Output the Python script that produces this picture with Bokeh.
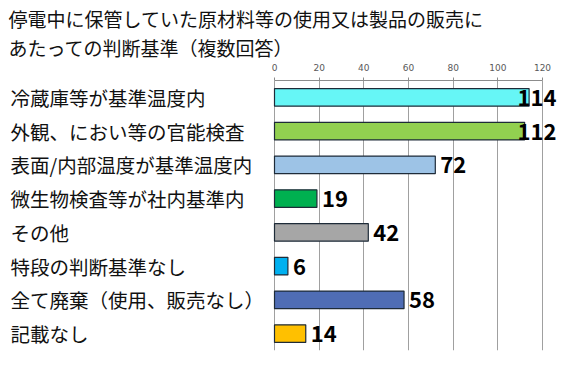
from bokeh.plotting import figure
from bokeh.models import ColumnDataSource, Range1d, FactorRange, FixedTicker, Title
from bokeh.core.properties import value
from bokeh.embed import file_html
from bokeh.resources import INLINE

title_lines = ["停電中に保管していた原材料等の使用又は製品の販売に",
               "あたっての判断基準（複数回答）"]
categories = ["冷蔵庫等が基準温度内", "外観、におい等の官能検査", "表面/内部温度が基準温度内",
              "微生物検査等が社内基準内", "その他", "特段の判断基準なし",
              "全て廃棄（使用、販売なし）", "記載なし"]
values = [114, 112, 72, 19, 42, 6, 58, 14]
colors = ["#66F6F6", "#92D050", "#9DC3E6", "#00B050", "#A6A6A6", "#00B0F0", "#4F6DB5", "#FFC000"]
ticks = [0, 20, 40, 60, 80, 100, 120]
x_min, x_max = 0, 120

# layout (pixels)
W, H = 561, 358
zero_px, max_px = 274, 542          # where 0 and 120 fall horizontally
ppu = (max_px - zero_px) / (x_max - x_min)
label_left_px = 10

p = figure(width=W, height=H, output_backend="svg", toolbar_location=None,
           x_range=Range1d(x_min - zero_px / ppu, x_min + (W - zero_px) / ppu),
           y_range=FactorRange(*reversed(categories), range_padding=0),
           x_axis_location="above", y_axis_location=None,
           min_border_left=0, min_border_right=0, min_border_top=80, min_border_bottom=8)
p.outline_line_color = None

src = ColumnDataSource(dict(cat=categories, val=values, color=colors))
p.hbar(y="cat", right="val", left=0, height=0.52, source=src, fill_color="color",
       line_color="#1E2B38", line_width=1.2)

ax = p.xaxis[0]
ax.ticker = FixedTicker(ticks=ticks)
ax.bounds = (x_min, x_max)
ax.axis_line_color = "#8C8C8C"
ax.major_tick_line_color = "#8C8C8C"
ax.major_tick_out = 3
ax.major_tick_in = 0
ax.minor_tick_out = 0
ax.minor_tick_in = 0
ax.major_label_text_font = "DejaVu Sans"
ax.major_label_text_font_size = "9px"
ax.major_label_text_color = "#595959"
ax.major_label_standoff = 7

p.xgrid.ticker = FixedTicker(ticks=ticks)
p.xgrid.bounds = (x_min, x_max)
p.xgrid.grid_line_color = "#A0A0A0"
p.ygrid.grid_line_color = None

# category labels, left aligned near the left edge
p.text(x=x_min - (zero_px - label_left_px) / ppu, y=categories, text=categories,
       text_align="left", text_baseline="middle",
       text_font=value("Noto Sans CJK JP"), text_font_size="19.5px", text_color="#111111")

# value labels: just outside the bar end, pinned to the right if they would overflow
fits = [v + 10 <= x_max for v in values]
lab_kw = dict(text_baseline="middle", text_font=value("Noto Sans CJK JP"), text_font_style="bold",
              text_font_size="22px", text_color="black")
p.text(x=[v for v, f in zip(values, fits) if f],
       y=[c for c, f in zip(categories, fits) if f],
       text=[str(v) for v, f in zip(values, fits) if f],
       x_offset=5, text_align="left", **lab_kw)
p.text(x=[x_max for v, f in zip(values, fits) if not f],
       y=[c for c, f in zip(categories, fits) if not f],
       text=[str(v) for v, f in zip(values, fits) if not f],
       x_offset=14, text_align="right", **lab_kw)

# two-line title (first added sits nearest the plot)
for t in reversed(title_lines):
    p.add_layout(Title(text=t, align="left", offset=label_left_px - 2, standoff=0,
                       text_font="Noto Sans CJK JP", text_font_size="19px",
                       text_font_style="normal", text_color="#111111"), "above")

open("out.html", "w").write(file_html(p, INLINE))
